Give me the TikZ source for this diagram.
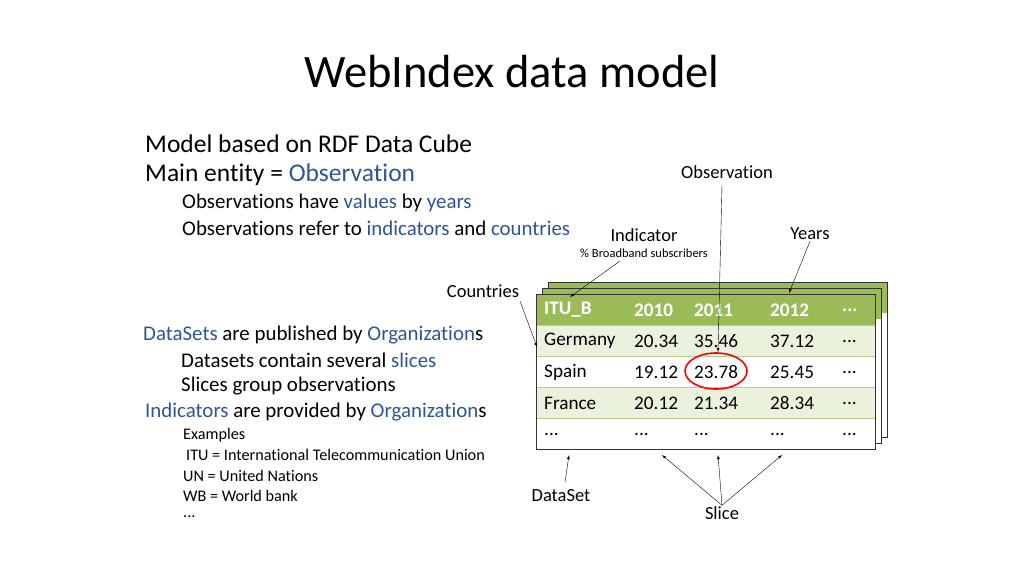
\documentclass[tikz,border=0pt]{standalone}
\usepackage{fontspec}
\setmainfont[RawFeature=-liga]{Carlito}
\usetikzlibrary{positioning,shapes.geometric}
\definecolor{kwblue}{RGB}{46,84,150}
\definecolor{hdgreen}{RGB}{155,187,89}
\definecolor{rowgreen}{RGB}{234,241,221}
\newcommand{\kw}[1]{\textcolor{kwblue}{#1}}
\newcommand{\dd}{...}
\tikzset{
  txt/.style={anchor=west, inner sep=0pt},
  lbl/.style={inner sep=1pt, font=\fontsize{18.5}{20}\selectfont},
  cell/.style={anchor=west, inner sep=0pt, font=\fontsize{19.2}{22}\selectfont},
  hcell/.style={cell, text=white, font=\fontsize{19.2}{22}\selectfont\bfseries},
  pointer/.style={-latex, thin}
}
\begin{document}
\begin{tikzpicture}[x=1pt,y=-1pt]
\useasboundingbox (0,0) rectangle (1024,576);

% Title
\node[font=\fontsize{46.5}{50}\selectfont] (title) at (512,72) {WebIndex data model};

% Bullets top
\node[txt, font=\fontsize{25.5}{28}\selectfont] (m1) at (145,144) {Model based on RDF Data Cube};
\node[txt, font=\fontsize{25.5}{28}\selectfont] (m2) at (145,175) {Main entity = \kw{Observation}};
\node[txt, font=\fontsize{20.9}{24}\selectfont] (m3) at (182,203) {Observations have \kw{values} by \kw{years}};
\node[txt, font=\fontsize{20.9}{24}\selectfont] (m4) at (182,228) {Observations refer to \kw{indicators} and \kw{countries}};

% Bullets bottom
\node[txt, font=\fontsize{20.9}{24}\selectfont] (d1) at (143,335) {\kw{DataSets} are published by \kw{Organization}s};
\node[txt, font=\fontsize{20.9}{24}\selectfont] (d2) at (181,360) {Datasets contain several \kw{slices}};
\node[txt, font=\fontsize{20.9}{24}\selectfont] (d3) at (181,386) {Slices group observations};
\node[txt, font=\fontsize{20.9}{24}\selectfont] (d4) at (145,412) {\kw{Indicators} are provided by \kw{Organization}s};
\foreach \t/\y/\dx in {Examples/435/0, {ITU = International Telecommunication Union}/455/3, {UN = United Nations}/476/0, {WB = World bank}/496/0, \dd/517/0}
  \node[txt, font=\fontsize{16.2}{18}\selectfont] at (183+\dx,\y) {\t};

% Stacked tables (back layers)
\foreach \o in {12,6} {
  \fill[white] (536+\o,294-\o) rectangle (875+\o,449-\o);
  \fill[hdgreen] (536+\o,294-\o) rectangle (875+\o,325-\o);
  \draw[black!80] (536+\o,294-\o) rectangle (875+\o,449-\o);
}

% Front table
\fill[hdgreen] (536,294) rectangle (875,325);
\fill[rowgreen] (536,325) rectangle (875,356);
\fill[white] (536,356) rectangle (875,387);
\fill[rowgreen] (536,387) rectangle (875,418);
\fill[white] (536,418) rectangle (875,449);
\foreach \y in {325,356,387,418}
  \draw[hdgreen!70, thin] (536,\y) -- (875,\y);
\draw[black!80] (536,294) rectangle (875,449);

\node[hcell] (h0) at (544,310) {ITU\_B};
\node[hcell] (h1) at (634,310) {2010};
\node[hcell] (h2) at (694,310) {2011};
\node[hcell] (h3) at (770,310) {2012};
\node[hcell] (h4) at (842,310) {\dd};
\foreach \r/\y/\a/\b/\c in {Germany/341/20.34/35.46/37.12, Spain/372/19.12/23.78/25.45, France/403/20.12/21.34/28.34, \dd/434/\dd/\dd/\dd} {
  \node[cell] at (544,\y) {\r};
  \node[cell] at (634,\y) {\a};
  \node[cell] at (694,\y) {\b};
  \node[cell] at (770,\y) {\c};
  \node[cell] at (842,\y) {\dd};
}
\node[draw=red, line width=1.6pt, ellipse, minimum width=62, minimum height=36] (obs) at (716,371) {};
\coordinate (germ) at (537,347);
\coordinate (cellobs) at (718,352);
\coordinate (yr) at (789,293);
\coordinate (ind) at (570,297);
\coordinate (ds) at (569,455);
\coordinate (s1) at (662,455);
\coordinate (s2) at (718,455);
\coordinate (s3) at (782,455);

% Labels and pointers
\node[lbl] (lobs) at (727,172) {Observation};
\node[lbl] (lyears) at (810,234) {Years};
\node[lbl] (lind) at (644,235) {Indicator};
\node[inner sep=1pt, font=\fontsize{12.5}{14}\selectfont] (lsub) at (644,253) {\% Broadband subscribers};
\node[lbl] (lctry) at (483,291) {Countries};
\node[lbl] (lds) at (561,496) {DataSet};
\node[lbl] (lslice) at (722,513) {Slice};
\coordinate (obstop) at (722,185);
\coordinate (indtop) at (620,261);
\coordinate (dstop) at (565,482);
\coordinate (ctryend) at (520,301);

\draw[pointer] (obstop) -- (cellobs);
\draw[pointer] (lyears.south) -- (yr);
\draw[pointer] (indtop) -- (ind);
\draw[pointer] (ctryend) -- (germ);
\draw[pointer] (dstop) -- (ds);
\draw[pointer] (lslice.north) -- (s1);
\draw[pointer] (lslice.north) -- (s2);
\draw[pointer] (lslice.north) -- (s3);
\end{tikzpicture}
\end{document}
